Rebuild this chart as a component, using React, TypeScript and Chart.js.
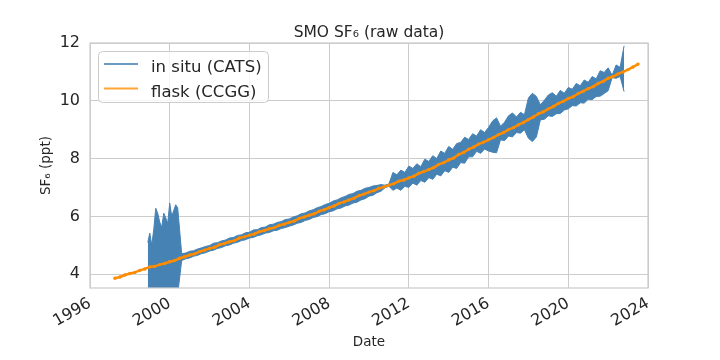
import { useEffect, useRef } from "react";
import { Chart, registerables } from "chart.js";

Chart.register(...registerables);

const chartTitle = "SMO SF\u2086 (raw data)";
const xAxisLabel = "Date";
const yAxisLabel = "SF\u2086 (ppt)";
const seriesLabels = ["in situ (CATS)", "flask (CCGG)"];
const xTickValues = [1996, 2000, 2004, 2008, 2012, 2016, 2020, 2024];
const yTickValues = [4, 6, 8, 10, 12];

// in situ (CATS): envelope (low / high) of the dense hourly record, per time bin
const inSituDates = [
  1998.9, 1999.0, 1999.1, 1999.2, 1999.3, 1999.4, 1999.5, 1999.6, 1999.7, 1999.8, 1999.9, 2000.0, 2000.1, 2000.2, 2000.3, 2000.4,
  2000.6, 2000.8, 2001.0, 2001.2, 2001.4, 2001.6, 2001.8, 2002.0, 2002.2, 2002.4, 2002.6, 2002.8,
  2003.0, 2003.2, 2003.4, 2003.6, 2003.8, 2004.0, 2004.2, 2004.4, 2004.6, 2004.8,
  2005.0, 2005.2, 2005.4, 2005.6, 2005.8, 2006.0, 2006.2, 2006.4, 2006.6, 2006.8,
  2007.0, 2007.2, 2007.4, 2007.6, 2007.8, 2008.0, 2008.2, 2008.4, 2008.6, 2008.8,
  2009.0, 2009.2, 2009.4, 2009.6, 2009.8, 2010.0, 2010.2, 2010.4, 2010.6, 2010.8, 2011.0,
  2011.2, 2011.4, 2011.6, 2011.8, 2012.0, 2012.2, 2012.4, 2012.6, 2012.8, 2013.0,
  2013.2, 2013.4, 2013.6, 2013.8, 2014.0, 2014.2, 2014.4, 2014.6, 2014.8, 2015.0,
  2015.2, 2015.4, 2015.6, 2015.8, 2016.0, 2016.2, 2016.4, 2016.6, 2016.8, 2017.0,
  2017.2, 2017.4, 2017.6, 2017.8, 2018.0, 2018.2, 2018.4, 2018.6, 2018.8, 2019.0,
  2019.2, 2019.4, 2019.6, 2019.8, 2020.0, 2020.2, 2020.4, 2020.6, 2020.8, 2021.0,
  2021.2, 2021.4, 2021.6, 2021.8, 2022.0, 2022.2, 2022.4, 2022.6, 2022.8,
];
const inSituLow = [
  3.30, 3.40, 3.50, 3.45, 3.35, 3.30, 3.25, 3.30, 3.25, 3.30, 3.20, 3.25, 3.30, 3.25, 3.20, 3.30,
  4.47, 4.53, 4.56, 4.62, 4.65, 4.71, 4.74, 4.80, 4.83, 4.89, 4.92, 4.98,
  5.01, 5.07, 5.10, 5.16, 5.19, 5.25, 5.27, 5.33, 5.36, 5.42,
  5.44, 5.50, 5.52, 5.58, 5.61, 5.66, 5.70, 5.76, 5.79, 5.86,
  5.89, 5.96, 5.99, 6.06, 6.09, 6.16, 6.19, 6.26, 6.29, 6.36,
  6.39, 6.46, 6.49, 6.57, 6.61, 6.70, 6.73, 6.82, 6.87, 6.99, 7.04,
  6.90, 6.98, 6.90, 7.04, 7.00, 7.15, 7.08, 7.24, 7.18, 7.34,
  7.28, 7.46, 7.40, 7.58, 7.52, 7.70, 7.66, 7.86, 7.84, 8.06,
  8.06, 8.25, 8.18, 8.33, 8.26, 8.22, 8.20, 8.65, 8.62, 8.78,
  8.75, 8.90, 8.88, 9.00, 8.70, 8.59, 8.75, 9.34, 9.36, 9.48,
  9.46, 9.55, 9.56, 9.68, 9.72, 9.83, 9.82, 9.93, 9.92, 10.05,
  10.04, 10.15, 10.16, 10.25, 10.35, 10.80, 10.78, 10.84, 10.32,
];
const inSituHigh = [
  5.10, 5.42, 5.00, 5.55, 6.28, 6.10, 5.80, 5.62, 6.11, 5.95, 5.76, 6.46, 6.00, 6.20, 6.40, 6.30,
  4.71, 4.73, 4.79, 4.81, 4.87, 4.91, 4.96, 4.99, 5.07, 5.09, 5.15, 5.18,
  5.25, 5.27, 5.34, 5.36, 5.43, 5.45, 5.53, 5.54, 5.61, 5.63,
  5.71, 5.73, 5.79, 5.82, 5.89, 5.91, 5.98, 6.02, 6.09, 6.12,
  6.19, 6.23, 6.30, 6.34, 6.41, 6.45, 6.53, 6.57, 6.64, 6.69,
  6.76, 6.79, 6.87, 6.90, 6.97, 7.00, 7.05, 7.07, 7.10, 7.08, 7.12,
  7.52, 7.44, 7.60, 7.52, 7.74, 7.66, 7.82, 7.72, 7.98, 7.90,
  8.10, 8.00, 8.26, 8.18, 8.42, 8.32, 8.52, 8.56, 8.74, 8.66,
  8.86, 8.78, 9.00, 8.90, 9.08, 9.30, 9.41, 9.12, 9.26, 9.48,
  9.58, 9.44, 9.60, 9.52, 10.10, 10.26, 10.15, 9.86, 10.02, 10.20,
  10.28, 10.16, 10.36, 10.26, 10.46, 10.40, 10.60, 10.52, 10.72, 10.64,
  10.84, 10.76, 11.04, 10.98, 11.14, 10.88, 11.24, 11.16, 11.90,
];

// flask (CCGG)
const flaskDates = [
  1997.25, 1997.5, 1997.75,
  1998.0, 1998.25, 1998.5, 1998.75,
  1999.0, 1999.25, 1999.5, 1999.75,
  2000.0, 2000.25, 2000.5, 2000.75,
  2001.0, 2001.25, 2001.5, 2001.75,
  2002.0, 2002.25, 2002.5, 2002.75,
  2003.0, 2003.25, 2003.5, 2003.75,
  2004.0, 2004.25, 2004.5, 2004.75,
  2005.0, 2005.25, 2005.5, 2005.75,
  2006.0, 2006.25, 2006.5, 2006.75,
  2007.0, 2007.25, 2007.5, 2007.75,
  2008.0, 2008.25, 2008.5, 2008.75,
  2009.0, 2009.25, 2009.5, 2009.75,
  2010.0, 2010.25, 2010.5, 2010.75,
  2011.0, 2011.25, 2011.5, 2011.75,
  2012.0, 2012.25, 2012.5, 2012.75,
  2013.0, 2013.25, 2013.5, 2013.75,
  2014.0, 2014.25, 2014.5, 2014.75,
  2015.0, 2015.25, 2015.5, 2015.75,
  2016.0, 2016.25, 2016.5, 2016.75,
  2017.0, 2017.25, 2017.5, 2017.75,
  2018.0, 2018.25, 2018.5, 2018.75,
  2019.0, 2019.25, 2019.5, 2019.75,
  2020.0, 2020.25, 2020.5, 2020.75,
  2021.0, 2021.25, 2021.5, 2021.75,
  2022.0, 2022.25, 2022.5, 2022.75,
  2023.0, 2023.25, 2023.5,
];
const flaskValues = [
  3.86, 3.90, 3.97,
  4.02, 4.06, 4.13, 4.18,
  4.25, 4.27, 4.33, 4.37,
  4.43, 4.47, 4.55, 4.60,
  4.66, 4.70, 4.78, 4.83,
  4.89, 4.93, 5.02, 5.06,
  5.12, 5.16, 5.25, 5.29,
  5.35, 5.39, 5.47, 5.51,
  5.57, 5.61, 5.69, 5.73,
  5.79, 5.84, 5.93, 5.98,
  6.04, 6.09, 6.18, 6.23,
  6.30, 6.36, 6.45, 6.50,
  6.57, 6.63, 6.72, 6.77,
  6.84, 6.89, 6.97, 7.02,
  7.08, 7.13, 7.22, 7.26,
  7.33, 7.39, 7.49, 7.55,
  7.62, 7.69, 7.80, 7.86,
  7.95, 8.02, 8.14, 8.21,
  8.32, 8.40, 8.50, 8.57,
  8.65, 8.73, 8.83, 8.90,
  9.00, 9.07, 9.17, 9.25,
  9.35, 9.44, 9.55, 9.62,
  9.72, 9.80, 9.91, 9.98,
  10.08, 10.14, 10.25, 10.33,
  10.42, 10.49, 10.60, 10.67,
  10.78, 10.84, 10.93, 11.00,
  11.08, 11.17, 11.27,
];

const BLUE = "#4682b4";
const ORANGE = "#ff8c00";
const TEXT = "#262626";
const GRID = "#cccccc";
const FONT = '"DejaVu Sans"';

export default function App() {
  const ref = useRef<HTMLCanvasElement | null>(null);

  useEffect(() => {
    const canvas = ref.current;
    if (!canvas) return;

    const decor = {
      id: "decor",
      afterDraw(chart: any) {
        const { ctx, chartArea: a } = chart;
        ctx.save();
        // frame
        ctx.strokeStyle = GRID;
        ctx.lineWidth = 1.25;
        ctx.strokeRect(a.left, a.top, a.right - a.left, a.bottom - a.top);
        // title
        ctx.fillStyle = TEXT;
        ctx.font = `15.5px ${FONT}`;
        ctx.textAlign = "center";
        ctx.textBaseline = "alphabetic";
        ctx.fillText(chartTitle, (a.left + a.right) / 2, a.top - 6);
        // x label
        ctx.font = `13.5px ${FONT}`;
        ctx.fillText(xAxisLabel, (a.left + a.right) / 2, 346);
        // y label
        ctx.save();
        ctx.translate(50, (a.top + a.bottom) / 2);
        ctx.rotate(-Math.PI / 2);
        ctx.fillText(yAxisLabel, 0, 0);
        ctx.restore();
        // legend
        const bx = a.left + 8.5, by = a.top + 8.5, bw = 170, bh = 51, r = 4;
        ctx.beginPath();
        ctx.moveTo(bx + r, by);
        ctx.lineTo(bx + bw - r, by);
        ctx.arcTo(bx + bw, by, bx + bw, by + r, r);
        ctx.lineTo(bx + bw, by + bh - r);
        ctx.arcTo(bx + bw, by + bh, bx + bw - r, by + bh, r);
        ctx.lineTo(bx + r, by + bh);
        ctx.arcTo(bx, by + bh, bx, by + bh - r, r);
        ctx.lineTo(bx, by + r);
        ctx.arcTo(bx, by, bx + r, by, r);
        ctx.closePath();
        ctx.fillStyle = "rgba(255,255,255,0.8)";
        ctx.fill();
        ctx.strokeStyle = GRID;
        ctx.lineWidth = 1;
        ctx.stroke();
        const colors = ["rgba(70,130,180,0.8)", "rgba(255,140,0,0.8)"];
        const rows = [a.top + 21, a.top + 45.5];
        ctx.font = `16.5px ${FONT}`;
        ctx.textAlign = "left";
        seriesLabels.forEach((lab, i) => {
          ctx.strokeStyle = colors[i];
          ctx.lineWidth = 2;
          ctx.beginPath();
          ctx.moveTo(a.left + 14, rows[i]);
          ctx.lineTo(a.left + 48, rows[i]);
          ctx.stroke();
          ctx.fillStyle = TEXT;
          ctx.fillText(lab, a.left + 61, rows[i] + 8);
        });
        ctx.restore();
      },
    };

    const chart = new Chart(canvas, {
      type: "line",
      data: {
        datasets: [
          {
            label: seriesLabels[1],
            data: flaskDates.map((d, i) => ({ x: d, y: flaskValues[i] })),
            borderColor: ORANGE,
            backgroundColor: ORANGE,
            borderWidth: 2.5,
            pointRadius: 1.7,
            pointBorderWidth: 0,
            pointHoverRadius: 0,
            tension: 0,
            fill: false,
            order: 1,
          } as any,
          {
            label: seriesLabels[0],
            data: inSituDates.map((d, i) => ({ x: d, y: inSituHigh[i] })),
            borderColor: BLUE,
            backgroundColor: BLUE,
            borderWidth: 1,
            pointRadius: 0,
            tension: 0,
            fill: "+1",
            order: 2,
          } as any,
          {
            label: seriesLabels[0] + " low",
            data: inSituDates.map((d, i) => ({ x: d, y: inSituLow[i] })),
            borderColor: BLUE,
            backgroundColor: BLUE,
            borderWidth: 1,
            pointRadius: 0,
            tension: 0,
            fill: false,
            order: 3,
          } as any,
        ],
      },
      options: {
        responsive: false,
        animation: false,
        events: [],
        layout: { padding: { left: 0, right: 72, top: 43, bottom: 0 } },
        plugins: {
          legend: { display: false },
          title: { display: false },
          tooltip: { enabled: false },
          filler: { propagate: false },
        },
        scales: {
          x: {
            type: "linear",
            min: 1996,
            max: 2024,
            offset: false,
            afterBuildTicks: (s: any) => {
              s.ticks = xTickValues.map((v) => ({ value: v }));
            },
            afterFit: (s: any) => {
              s.height = 72;
            },
            grid: { color: GRID, lineWidth: 1, drawTicks: false, offset: false },
            border: { display: false },
            ticks: {
              autoSkip: false,
              maxRotation: 30,
              minRotation: 30,
              padding: 6,
              color: TEXT,
              font: { family: FONT, size: 16 },
              callback: (v: any) => String(v),
            },
          },
          y: {
            type: "linear",
            min: 3.52,
            max: 12,
            afterBuildTicks: (s: any) => {
              s.ticks = yTickValues.map((v) => ({ value: v }));
            },
            afterFit: (s: any) => {
              s.width = 90;
            },
            grid: { color: GRID, lineWidth: 1, drawTicks: false },
            border: { display: false },
            ticks: {
              padding: 10,
              color: TEXT,
              font: { family: FONT, size: 16 },
              callback: (v: any) => String(v),
            },
          },
        },
      } as any,
      plugins: [decor],
    });
    return () => chart.destroy();
  }, []);

  return (
    <div style={{ position: "fixed", left: 0, top: 0, width: 720, height: 360, background: "#fff" }}>
      <canvas ref={ref} width={720} height={360} style={{ display: "block", width: 720, height: 360 }} />
    </div>
  );
}
